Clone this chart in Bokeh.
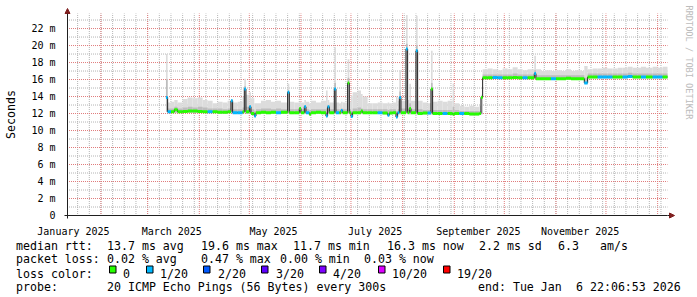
from math import pi
from bokeh.plotting import figure
from bokeh.models import Range1d, FixedTicker, Arrow, NormalHead, ColumnDataSource
from bokeh.core.properties import value
from bokeh.embed import file_html
from bokeh.resources import INLINE

MONO = "DejaVu Sans Mono"

# ---------------- data (x: days since 2025-01-01, local time; y: milliseconds) ----------------
day = [70, 71, 73, 75, 77, 80, 83, 86, 89, 92, 95, 98, 101, 104, 107, 109, 110, 113, 116, 117,
       118, 120, 121, 123, 124, 127, 130, 133, 136, 139, 143, 144, 147, 150, 151, 153, 154, 156,
       157, 160, 163, 166, 167, 168, 171, 172, 174, 175, 176, 179, 180, 181, 182, 185, 187, 188,
       191, 194, 197, 200, 203, 204, 206, 208, 209, 210, 211, 214, 215, 216, 217, 220, 221, 224,
       227, 229, 230, 233, 236, 239, 242, 243, 246, 249, 252, 255, 258, 259, 260, 263, 266, 269,
       272, 275, 278, 281, 284, 287, 291, 292, 295, 298, 301, 304, 307, 310, 313, 316, 319, 321,
       323, 326, 329, 332, 335, 338, 341, 344, 347, 350, 353, 355, 358, 362, 365, 368]
median_ms = [13.9, 12.2, 12.2, 12.45, 12.2, 12.25, 12.3, 12.3, 12.25, 12.2, 12.2, 12.2, 12.15, 12.15, 12.2, 13.5, 12.1, 12.1, 12.2, 14.9,
             12.2, 12.8, 12.0, 11.7, 12.1, 12.15, 12.1, 12.15, 12.1, 12.15, 14.5, 12.1, 12.1, 12.6, 12.1, 12.8, 12.1, 11.9,
             12.1, 12.15, 12.1, 11.7, 12.8, 12.1, 14.9, 12.1, 12.1, 12.35, 12.1, 15.6, 12.1, 11.65, 12.1, 12.1, 12.3, 12.1,
             12.1, 12.1, 12.1, 12.05, 11.8, 12.05, 12.1, 11.6, 12.1, 13.9, 12.1, 19.6, 12.1, 12.6, 12.1, 19.4, 12.0, 12.05,
             12.05, 14.9, 12.0, 12.0, 12.0, 12.0, 11.9, 12.0, 12.0, 12.0, 11.95, 11.95, 12.0, 13.9, 16.2, 16.2, 16.25, 16.2,
             16.2, 16.2, 16.25, 16.2, 16.2, 16.2, 16.7, 16.1, 16.1, 16.1, 16.1, 16.1, 16.1, 16.15, 16.1, 16.1, 16.1, 15.6,
             16.3, 16.3, 16.3, 16.3, 16.3, 16.3, 16.3, 16.3, 16.35, 16.3, 16.3, 16.3, 16.3, 16.3, 16.3, 16.3]
loss = [1, 1, 0, 0, 0, 0, 0, 0, 0, 0, 1, 0, 0, 0, 0, 1, 1, 1, 0, 1,
        0, 1, 0, 1, 0, 0, 0, 0, 1, 0, 1, 0, 0, 0, 0, 1, 1, 0,
        0, 0, 0, 1, 1, 0, 1, 1, 0, 1, 0, 0, 0, 1, 0, 0, 0, 0,
        0, 0, 1, 0, 1, 0, 0, 1, 1, 1, 0, 1, 0, 0, 0, 1, 0, 0,
        1, 0, 0, 0, 1, 0, 0, 0, 1, 0, 0, 0, 0, 0, 0, 0, 1, 1,
        0, 0, 0, 0, 1, 0, 1, 0, 0, 0, 1, 0, 0, 0, 0, 0, 0, 1,
        0, 0, 1, 1, 1, 0, 0, 1, 1, 0, 0, 1, 0, 1, 1, 0]
smoke_lo_ms = [12.2, 12.05, 12.05, 12.1, 12.05, 12.1, 12.1, 12.1, 12.1, 12.05, 12.05, 12.05, 12.0, 12.0, 12.05, 12.1, 11.95, 11.95, 12.05, 12.1,
               12.0, 12.0, 11.85, 11.6, 11.95, 12.0, 11.95, 12.0, 11.95, 12.0, 12.0, 11.95, 11.95, 12.0, 11.95, 12.0, 11.95, 11.8,
               11.95, 12.0, 11.95, 11.6, 12.0, 11.95, 12.0, 11.95, 11.95, 12.0, 11.95, 12.0, 11.95, 11.55, 11.95, 11.95, 12.0, 11.95,
               11.95, 11.95, 11.95, 11.9, 11.7, 11.9, 11.95, 11.5, 11.95, 11.9, 11.95, 12.0, 11.95, 11.9, 11.95, 11.9, 11.85, 11.9,
               11.9, 11.9, 11.85, 11.85, 11.85, 11.85, 11.8, 11.85, 11.85, 11.85, 11.8, 11.8, 11.85, 11.9, 16.05, 16.05, 16.1, 16.05,
               16.05, 16.05, 16.1, 16.05, 16.05, 16.05, 16.1, 15.95, 15.95, 15.95, 15.95, 15.95, 15.95, 16.0, 15.95, 15.95, 15.95, 15.5,
               16.15, 16.15, 16.15, 16.15, 16.15, 16.15, 16.15, 16.15, 16.2, 16.15, 16.15, 16.15, 16.15, 16.15, 16.15, 16.15]
smoke_hi_ms = [19.0, 13.3, 13.4, 13.6, 13.3, 13.7, 13.9, 13.8, 13.9, 13.6, 13.5, 13.2, 13.4, 13.3, 13.5, 13.7, 13.3, 13.4, 14.0, 16.1,
               14.2, 14.5, 13.8, 13.2, 13.2, 13.5, 13.6, 13.4, 13.5, 13.3, 15.5, 13.4, 13.3, 13.4, 13.3, 13.6, 13.4, 13.2,
               13.5, 13.3, 13.5, 14.7, 13.6, 13.3, 19.8, 13.3, 13.2, 13.4, 13.3, 18.4, 13.4, 14.1, 14.5, 14.7, 14.3, 14.0,
               13.2, 13.2, 13.3, 13.2, 13.3, 13.2, 13.3, 14.0, 13.5, 17.1, 13.5, 23.6, 13.6, 15.5, 13.5, 23.5, 13.5, 13.3,
               13.2, 19.4, 13.4, 13.5, 13.4, 13.5, 15.5, 13.2, 12.9, 12.8, 12.9, 12.8, 12.9, 14.2, 17.2, 17.3, 17.2, 17.1,
               17.3, 17.2, 17.45, 17.2, 17.1, 17.2, 18.8, 17.2, 17.0, 17.1, 17.0, 17.1, 17.0, 17.2, 17.0, 17.1, 17.0, 17.6,
               17.2, 17.3, 17.3, 17.4, 17.3, 17.3, 17.4, 17.4, 17.5, 17.4, 17.4, 17.5, 17.4, 17.5, 17.4, 17.5]
smoke_mid_ms = [16.0, 12.6, 12.6, 12.8, 12.6, 12.7, 12.8, 12.7, 12.8, 12.7, 12.6, 12.6, 12.6, 12.5, 12.6, 13.5, 12.5, 12.5, 12.7, 15.2,
                12.8, 13.0, 12.5, 12.3, 12.5, 12.6, 12.6, 12.5, 12.6, 12.5, 14.7, 12.5, 12.5, 12.8, 12.5, 13.0, 12.5, 12.4,
                12.5, 12.5, 12.5, 12.6, 13.0, 12.5, 15.6, 12.5, 12.5, 12.6, 12.5, 16.2, 12.5, 12.3, 12.6, 12.7, 12.6, 12.5,
                12.5, 12.5, 12.5, 12.5, 12.4, 12.5, 12.5, 12.3, 12.5, 14.6, 12.6, 20.2, 12.5, 13.2, 12.5, 20.0, 12.5, 12.4,
                12.4, 15.6, 12.4, 12.4, 12.4, 12.4, 12.8, 12.4, 12.3, 12.3, 12.3, 12.3, 12.3, 14.0, 16.6, 16.6, 16.6, 16.6,
                16.6, 16.6, 16.7, 16.6, 16.6, 16.6, 17.1, 16.5, 16.5, 16.5, 16.5, 16.5, 16.5, 16.5, 16.5, 16.5, 16.5, 16.2,
                16.7, 16.7, 16.7, 16.7, 16.7, 16.7, 16.7, 16.7, 16.8, 16.7, 16.7, 16.7, 16.7, 16.7, 16.7, 16.7]

end_day = 370.92            # Tue Jan 6 22:06:53 2026
start_day = end_day - 360.0
y_top = 23.77

month_starts = [31, 59, 90, 120, 151, 181, 212, 243, 273, 304, 334, 365]
label_months = [0, 59, 120, 181, 243, 304]
label_texts = ["January 2025", "March 2025", "May 2025", "July 2025", "September 2025", "November 2025"]
first_week_line = 17

loss_levels = [0, 1, 2, 3, 4, 10, 19]
loss_names = ["0", "1/20", "2/20", "3/20", "4/20", "10/20", "19/20"]
loss_colors = ["#26ff00", "#00b8ff", "#0059ff", "#5e00ff", "#7e00ff", "#dd00ff", "#ff0000"]

y_ticks = list(range(0, 23, 2))
y_minor = list(range(1, 24, 2))

legend_rows = [
    [(16, "median rtt:"), (107, "13.7 ms avg"), (201, "19.6 ms max"), (293, "11.7 ms min"),
     (387, "16.3 ms now"), (479, "2.2 ms sd"), (558, "6.3"), (600, "am/s")],
    [(16, "packet loss:"), (107, "0.02 % avg"), (201, "0.47 % max"), (280, "0.00 % min"),
     (364, "0.03 % now")],
    [(16, "loss color:")],
    [(16, "probe:"), (107, "20 ICMP Echo Pings (56 Bytes) every 300s"),
     (478, "end: Tue Jan"), (576, "6 22:06:53 2026")],
]

for arr in (median_ms, loss, smoke_lo_ms, smoke_hi_ms, smoke_mid_ms):
    assert len(arr) == len(day)

# ---------------- page geometry (pixels) ----------------
W, H = 697, 297
PL, PR, PT, PB = 67, 667, 13, 215           # plot area inside the canvas
DX = (end_day - start_day) / (PR - PL)      # days per pixel
DY = y_top / (PB - PT)                      # ms per pixel


def X(px):
    return start_day + (px - PL) * DX


def Y(py):
    return (PB - py) * DY


def loss_color(n):
    c = loss_colors[0]
    for lv, col in zip(loss_levels, loss_colors):
        if n >= lv:
            c = col
    return c


right_edge = day[1:] + [end_day]
src = ColumnDataSource(dict(left=day, right=right_edge, med=median_ms, lo=smoke_lo_ms,
                            hi=smoke_hi_ms, mid=smoke_mid_ms,
                            col=[loss_color(n) for n in loss]))

p = figure(width=W, height=H, x_range=Range1d(X(0), X(W)), y_range=Range1d(Y(H), Y(0)),
           output_backend="svg", toolbar_location=None, min_border=0,
           background_fill_color="white", border_fill_color="white", outline_line_color=None)

# ---- dotted grid, limited to the plot area ----
p.xgrid.visible = False
p.ygrid.visible = False
week_lines = list(range(first_week_line, int(end_day) + 1, 7))
MAJ, MIN = "#e07c7c", "#b4b4b4"
DASH = "1 1"
for xs, col in ((week_lines, MIN), (month_starts, MAJ)):
    p.segment(x0=xs, y0=Y(PB + 0.5), x1=xs, y1=y_top, line_color=col, line_dash=DASH)
for ys, col in ((y_minor, MIN), (y_ticks[1:], MAJ)):
    p.segment(x0=X(PL - 0.5), y0=ys, x1=end_day, y1=ys, line_color=col, line_dash=DASH)

# ---- smoke and median ----
p.quad(left="left", right="right", bottom="lo", top="hi", source=src,
       fill_color="#dcdcdc", line_color=None)
p.quad(left="left", right="right", bottom="lo", top="mid", source=src,
       fill_color="#bdbdbd", line_color=None)
p.step(x=day + [end_day], y=median_ms + [median_ms[-1]], mode="after",
       line_color="#202020", line_width=1)
p.segment(x0="left", y0="med", x1="right", y1="med", source=src,
          line_color="col", line_width=3)

# ---- axes fixed at the plot-area edges ----
xax = p.xaxis[0]
xax.fixed_location = 0
xax.bounds = (X(PL - 3), end_day)
label_pos = [m + 14.5 for m in label_months]
xax.ticker = FixedTicker(ticks=label_pos)
xax.major_label_overrides = {pos: t for pos, t in zip(label_pos, label_texts)}
xax.major_tick_line_color = None
xax.minor_tick_line_color = None
xax.major_label_standoff = 4
xax.major_label_text_font = MONO
xax.major_label_text_font_size = "10px"
xax.major_label_text_color = "black"
xax.axis_line_color = "#1f1f1f"

yax = p.yaxis[0]
yax.fixed_location = start_day
yax.bounds = (Y(PB + 3), y_top)
yax.ticker = FixedTicker(ticks=y_ticks, minor_ticks=y_minor)
yax.major_label_overrides = {v: ("0" if v == 0 else f"{v} m") for v in y_ticks}
yax.major_tick_line_color = None
yax.minor_tick_line_color = None
yax.major_label_standoff = 6
yax.major_label_text_font = MONO
yax.major_label_text_font_size = "10px"
yax.major_label_text_color = "black"
yax.axis_line_color = "#1f1f1f"

ARROW = "#7f1f1f"
p.add_layout(Arrow(end=NormalHead(size=5, fill_color=ARROW, line_color=ARROW),
                   x_start=end_day, y_start=0, x_end=X(674), y_end=0,
                   line_color="#1f1f1f", line_width=1))
p.add_layout(Arrow(end=NormalHead(size=5, fill_color=ARROW, line_color=ARROW),
                   x_start=start_day, y_start=y_top, x_end=start_day, y_end=Y(8),
                   line_color="#1f1f1f", line_width=1))

# ---- axis title and watermark ----
p.text(x=[X(10)], y=[Y(114)], text=["Seconds"], angle=pi / 2, text_align="center",
       text_baseline="middle", text_font=value(MONO), text_font_size="11.6px", text_color="black")
p.text(x=[X(688.5)], y=[Y(5)], text=["RRDTOOL / TOBI OETIKER"], angle=-pi / 2,
       text_align="left", text_baseline="middle", text_font=value(MONO),
       text_font_size="8.6px", text_color="#bcbcbc")

# ---- legend block ----
row_base = [245, 258.7, 273, 286.7]
lx, ly, lt = [], [], []
for base, row in zip(row_base, legend_rows):
    for px, t in row:
        lx.append(X(px - 0.5))
        ly.append(Y(base))
        lt.append(t)
p.text(x=lx, y=ly, text=lt, text_font=value(MONO), text_font_size="11.6px",
       text_baseline="alphabetic", text_align="left", text_color="black")

box_left = [109, 146, 203, 261, 319, 378, 443]
name_x = [123, 160, 218, 276, 333, 392, 457]
p.quad(left=[X(b) for b in box_left], right=[X(b + 6.5) for b in box_left],
       top=Y(265.5), bottom=Y(272.5), fill_color=loss_colors, line_color="black", line_width=1)
p.text(x=[X(v - 0.5) for v in name_x], y=[Y(row_base[2])] * len(name_x), text=loss_names,
       text_font=value(MONO), text_font_size="11.6px", text_baseline="alphabetic",
       text_align="left", text_color="black")

open("out.html", "w").write(file_html(p, INLINE))
